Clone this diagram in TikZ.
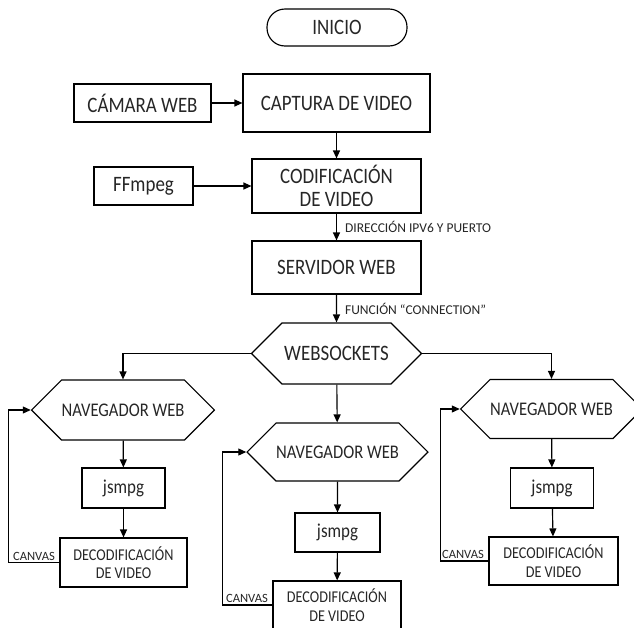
\documentclass[tikz,border=0pt]{standalone}
\usepackage{fontspec}
\setmainfont{Carlito}[FakeStretch=0.86]
\newfontfamily\lblfont{Carlito}
\usepackage{tikz}
\usetikzlibrary{arrows.meta,shapes.symbols}

\begin{document}
\begin{tikzpicture}[x=1pt,y=-1pt,->,>={Triangle[length=8pt,width=7pt]},
                    line width=1.15pt,text=black!85,
                    box node/.style={rectangle,draw,align=center,inner sep=0pt,
                                     font=\fontsize{22}{23.5}\selectfont},
                    hex node/.style={signal,signal to=west and east,signal pointer angle=90,
                                     draw,inner sep=0pt,font=\fontsize{19.3}{22}\selectfont},
                    js node/.style={box node,font=\fontsize{19.7}{22}\selectfont},
                    dec node/.style={box node,font=\fontsize{16.5}{18.5}\selectfont},
                    lbl/.style={font=\lblfont\fontsize{13.5}{15}\selectfont,inner sep=1.5pt},
                    canvas lbl/.style={font=\lblfont\fontsize{12.6}{14}\selectfont,
                                       inner ysep=1.5pt,inner xsep=4pt,anchor=south east}]
      \useasboundingbox (0,0) rectangle (634,627);
      \node[box node,rounded corners=18pt,minimum width=140pt,minimum height=37pt] (inicio) at (337,27.5) {INICIO};
      \node[box node,minimum width=137pt,minimum height=38pt] (camara) at (142.5,103) {CÁMARA WEB};
      \node[box node,minimum width=187pt,minimum height=58pt] (captura) at (336.5,103) {CAPTURA DE VIDEO};
      \node[box node,minimum width=99pt,minimum height=38pt] (ffmpeg) at (143.5,186) {FFmpeg};
      \node[box node,minimum width=169pt,minimum height=54pt] (codif) at (336.5,186) {CODIFICACIÓN\\DE VIDEO};
      \node[box node,minimum width=169pt,minimum height=53pt] (servidor) at (336.5,267.5) {SERVIDOR WEB};
      \node[hex node,font=\fontsize{22}{24}\selectfont,minimum width=170pt,minimum height=61pt] (websockets) at (336.5,353.5) {WEBSOCKETS};

      % navegadores
      \node[hex node,minimum width=170pt,minimum height=60pt] (navL) at (123,410) {NAVEGADOR WEB};
      \node[hex node,minimum width=169pt,minimum height=58pt] (navC) at (337.5,452) {NAVEGADOR WEB};
      \node[hex node,minimum width=163pt,minimum height=59pt] (navR) at (551.5,409) {NAVEGADOR WEB};
      \node[js node,minimum width=83pt,minimum height=40pt] (jsL) at (123.5,488) {jsmpg};
      \node[js node,minimum width=85pt,minimum height=39pt] (jsC) at (337.5,532.5) {jsmpg};
      \node[js node,minimum width=83pt,minimum height=40pt] (jsR) at (552,488) {jsmpg};
      \node[dec node,minimum width=127pt,minimum height=49pt] (decL) at (123.5,562.5) {DECODIFICACIÓN\\DE VIDEO};
      \node[dec node,minimum width=128pt,minimum height=48pt] (decC) at (337,605) {DECODIFICACIÓN\\DE VIDEO};
      \node[dec node,minimum width=129pt,minimum height=48pt] (decR) at (553.5,561) {DECODIFICACIÓN\\DE VIDEO};

      \path (camara) edge (captura);
      \path (ffmpeg) edge (codif);
      \path (captura) edge (codif);
      \path (codif) edge node[lbl,right,inner xsep=8pt] {DIRECCIÓN IPV6 Y PUERTO} (servidor);
      \path (servidor) edge node[lbl,right,inner xsep=8pt] {FUNCIÓN “CONNECTION”} (websockets);
      %
      \draw (websockets.west) -| (navL.north);
      \draw (websockets.east) -| (navR.north);
      \path (websockets) edge (navC);
      %
      \path (navL) edge (jsL);
      \path (jsL) edge (decL);
      \path (navC) edge (jsC);
      \path (jsC) edge (decC);
      \path (navR) edge (jsR);
      \path (jsR) edge (decR);
      % canvas
      \draw (decL.west) node[canvas lbl] {CANVAS} -- ++(-51,0) |- (navL.west);
      \draw (decC.west) node[canvas lbl] {CANVAS} -- ++(-50,0) |- (navC.west);
      \draw (decR.west) node[canvas lbl] {CANVAS} -- ++(-48,0) |- (navR.west);
\end{tikzpicture}
\end{document}
